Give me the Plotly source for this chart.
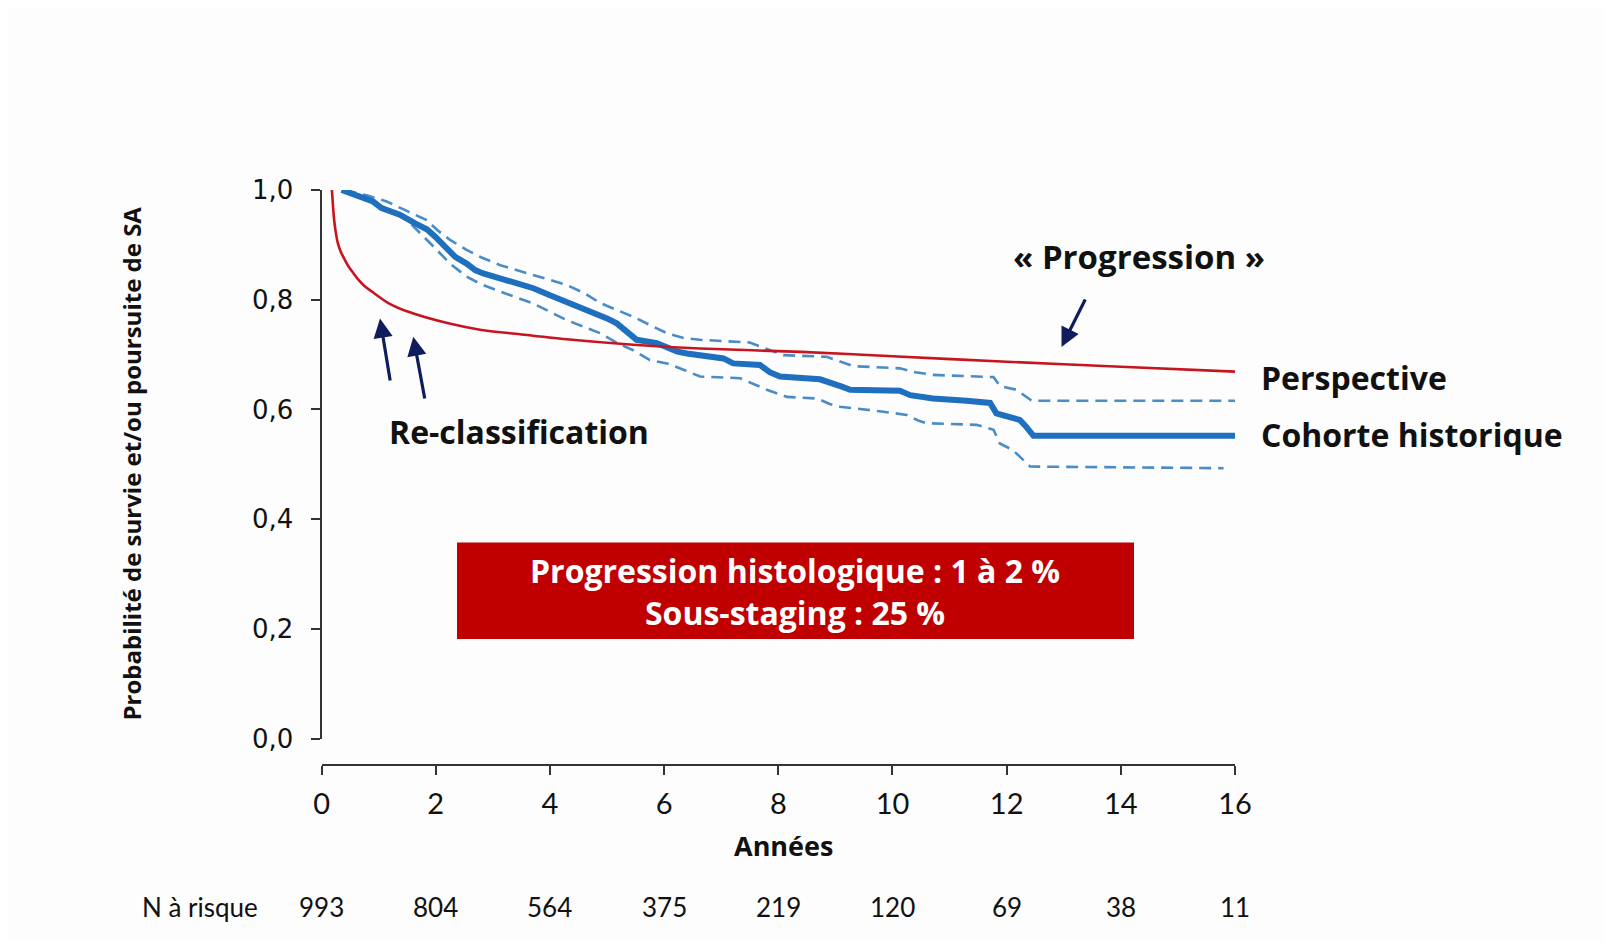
import plotly.graph_objects as go

# ---------------- data ----------------
year_ticks = [0, 2, 4, 6, 8, 10, 12, 14, 16]
y_ticks = [0.0, 0.2, 0.4, 0.6, 0.8, 1.0]
y_tick_text = ["0,0", "0,2", "0,4", "0,6", "0,8", "1,0"]
n_at_risk = [993, 804, 564, 375, 219, 120, 69, 38, 11]

persp_x = [0.18, 0.2, 0.22, 0.245, 0.28, 0.33, 0.4, 0.47, 0.56, 0.64, 0.75, 0.88, 1.17, 1.52,
           2.22, 2.8, 3.39, 4.29, 5.46, 6.63, 8.4, 10.0, 12.0, 14.0, 16.0]
persp_y = [1.0, 0.97, 0.945, 0.925, 0.905, 0.889, 0.874, 0.861, 0.848, 0.837, 0.825, 0.815,
           0.794, 0.778, 0.757, 0.745, 0.738, 0.728, 0.718, 0.711, 0.705, 0.697, 0.687, 0.678,
           0.669]

cohort_x = [0.35, 0.6, 0.9, 1.05, 1.37, 1.64, 1.85, 1.99, 2.1, 2.25, 2.34, 2.54, 2.69, 2.83,
            3.13, 3.4, 3.71, 4.0, 4.29, 4.6, 4.76, 5.0, 5.17, 5.4, 5.52, 5.87, 6.1, 6.22, 6.4,
            7.04, 7.21, 7.68, 7.85, 8.03, 8.73, 8.96, 9.1, 9.26, 10.13, 10.31, 10.71, 11.3,
            11.71, 11.82, 12.06, 12.23, 12.33, 12.41, 12.47, 16.0]
cohort_y = [1.0, 0.99, 0.979, 0.967, 0.955, 0.939, 0.928, 0.915, 0.903, 0.889, 0.878, 0.866,
            0.854, 0.848, 0.839, 0.83, 0.821, 0.808, 0.796, 0.784, 0.775, 0.766, 0.757, 0.737,
            0.727, 0.721, 0.711, 0.706, 0.702, 0.693, 0.684, 0.681, 0.668, 0.66, 0.655, 0.648,
            0.642, 0.636, 0.634, 0.626, 0.62, 0.616, 0.612, 0.593, 0.587, 0.581, 0.57, 0.557,
            0.552, 0.552]

ci_up_x = [0.4, 0.8, 1.14, 1.5, 1.84, 2.05, 2.25, 2.54, 2.8, 3.13, 3.7, 4.29, 4.6, 4.88, 5.2,
           5.46, 5.75, 6.05, 6.35, 6.63, 7.5, 7.8, 8.09, 8.85, 9.1, 9.31, 10.13, 10.4, 10.71,
           11.59, 11.77, 11.88, 12.17, 12.44, 16.0]
ci_up_y = [1.0, 0.99, 0.979, 0.962, 0.945, 0.925, 0.909, 0.891, 0.877, 0.863, 0.845, 0.827,
           0.812, 0.794, 0.78, 0.769, 0.754, 0.739, 0.73, 0.727, 0.722, 0.71, 0.699, 0.696,
           0.686, 0.679, 0.675, 0.668, 0.663, 0.66, 0.659, 0.643, 0.636, 0.616, 0.616]

ci_lo_x = [0.4, 0.8, 1.14, 1.5, 1.96, 2.25, 2.54, 2.8, 3.13, 3.71, 4.29, 4.88, 5.2, 5.46, 5.75,
           6.05, 6.35, 6.63, 7.33, 7.6, 7.8, 8.15, 8.68, 8.9, 9.08, 9.84, 10.25, 10.45, 10.6,
           11.47, 11.77, 11.88, 12.11, 12.41, 15.8]
ci_lo_y = [1.0, 0.985, 0.965, 0.945, 0.897, 0.866, 0.842, 0.828, 0.815, 0.793, 0.763, 0.739,
           0.72, 0.708, 0.69, 0.684, 0.672, 0.66, 0.657, 0.645, 0.636, 0.623, 0.62, 0.61,
           0.605, 0.596, 0.59, 0.58, 0.575, 0.572, 0.563, 0.538, 0.526, 0.496, 0.493]

# ---------------- layout helpers (page pixel -> paper fraction) ----------------
# the page body has an 8px margin, so the figure starts at page (8, 8)
W, H = 1595, 933
L, R, T, B = 292, 292, 142, 176
PW, PH = W - L - R, H - T - B
OFF = 8


def px(x):
    return (x - OFF - L) / PW


def py(y):
    return (H - B - (y - OFF)) / PH


BLUE = "#1f6fbf"
BLUE_CI = "#4a8cc8"
RED = "#c8141e"
NAVY = "#101d5c"
BOX_RED = "#c00000"
TXT = "#111111"
FONT = "Lato, 'Open Sans', sans-serif"
BFONT = "'Open Sans', Lato, sans-serif"

fig = go.Figure()
fig.add_trace(go.Scatter(x=ci_up_x, y=ci_up_y, mode="lines",
                         line=dict(color=BLUE_CI, width=2.6, dash="12px,7px"), hoverinfo="skip"))
fig.add_trace(go.Scatter(x=ci_lo_x, y=ci_lo_y, mode="lines",
                         line=dict(color=BLUE_CI, width=2.6, dash="12px,7px"), hoverinfo="skip"))
fig.add_trace(go.Scatter(x=cohort_x, y=cohort_y, mode="lines",
                         line=dict(color=BLUE, width=6), hoverinfo="skip"))
fig.add_trace(go.Scatter(x=persp_x, y=persp_y, mode="lines", line_shape="spline",
                         line=dict(color=RED, width=2.6, smoothing=0.8), hoverinfo="skip"))

annotations = []
# y axis title
annotations.append(dict(x=px(131.5), y=py(464), xref="paper", yref="paper",
                        text="<b>Probabilité de survie et/ou poursuite de SA</b>", textangle=-90,
                        showarrow=False, font=dict(family=BFONT, size=24, color=TXT),
                        xanchor="center", yanchor="middle"))
# x axis title
annotations.append(dict(x=px(783), y=py(845), xref="paper", yref="paper",
                        text="<b>Années</b>", showarrow=False,
                        font=dict(family=BFONT, size=27, color=TXT),
                        xanchor="center", yanchor="middle"))
# N at risk row
annotations.append(dict(x=px(200), y=py(907), xref="paper", yref="paper",
                        text="N à risque", showarrow=False,
                        font=dict(family=FONT, size=26, color=TXT),
                        xanchor="center", yanchor="middle"))
for t, n in zip(year_ticks, n_at_risk):
    annotations.append(dict(x=t, y=py(907), xref="x", yref="paper", text=str(n),
                            showarrow=False, font=dict(family=FONT, size=26, color=TXT),
                            xanchor="center", yanchor="middle"))
# labels
annotations.append(dict(x=px(1139), y=py(256), xref="paper", yref="paper",
                        text="<b>« Progression »</b>", showarrow=False,
                        font=dict(family=BFONT, size=33, color=TXT),
                        xanchor="center", yanchor="middle"))
annotations.append(dict(x=px(1259), y=py(377), xref="paper", yref="paper",
                        text="<b>Perspective</b>", showarrow=False,
                        font=dict(family=BFONT, size=32, color=TXT),
                        xanchor="left", yanchor="middle"))
annotations.append(dict(x=px(1259), y=py(434), xref="paper", yref="paper",
                        text="<b>Cohorte historique</b>", showarrow=False,
                        font=dict(family=BFONT, size=32, color=TXT),
                        xanchor="left", yanchor="middle"))
annotations.append(dict(x=px(387), y=py(431), xref="paper", yref="paper",
                        text="<b>Re-classification</b>", showarrow=False,
                        font=dict(family=BFONT, size=32, color=TXT),
                        xanchor="left", yanchor="middle"))
# red box text
annotations.append(dict(x=px(795), y=py(591), xref="paper", yref="paper",
                        text="<b>Progression histologique : 1 à 2 %</b><br><b>Sous-staging : 25 %</b>",
                        showarrow=False, align="center",
                        font=dict(family=BFONT, size=32, color="white"),
                        xanchor="center", yanchor="middle"))
# arrows
for hx, hy, ax, ay in [(380, 318.5, 390.4, 382), (413.3, 336.7, 425, 400), (1061.5, 347, 1086, 298)]:
    annotations.append(dict(x=px(hx), y=py(hy), xref="paper", yref="paper",
                            ax=ax - hx, ay=ay - hy, axref="pixel", ayref="pixel",
                            text="", showarrow=True, arrowhead=2, arrowsize=1.2,
                            arrowwidth=3.2, arrowcolor=NAVY, standoff=0))

shapes = [dict(type="rect", xref="paper", yref="paper",
               x0=px(457), x1=px(1134), y0=py(639), y1=py(542.5),
               fillcolor=BOX_RED, line=dict(width=0), layer="above")]

fig.update_layout(
    width=W, height=H, autosize=False,
    margin=dict(l=L, r=R, t=T, b=B),
    paper_bgcolor="#fcfdfc", plot_bgcolor="#fcfdfc",
    showlegend=False,
    annotations=annotations, shapes=shapes,
    xaxis=dict(domain=[px(321.6), px(1235)], range=[0, 16], anchor="free", position=0,
               tickvals=year_ticks, ticktext=[str(t) for t in year_ticks],
               ticks="outside", ticklen=9, tickwidth=2, tickcolor="#333",
               showline=True, linecolor="#333", linewidth=2, showgrid=False, zeroline=False,
               tickfont=dict(family=FONT, size=29, color=TXT), ticklabelstandoff=4),
    yaxis=dict(domain=[py(738.7), py(190)], range=[0, 1], anchor="x",
               tickvals=y_ticks, ticktext=y_tick_text,
               ticks="outside", ticklen=9, tickwidth=2, tickcolor="#333",
               showline=True, linecolor="#333", linewidth=2, showgrid=False, zeroline=False,
               tickfont=dict(family="DejaVu Sans", size=26, color=TXT), ticklabelstandoff=12),
)

fig.write_html("out.html")
